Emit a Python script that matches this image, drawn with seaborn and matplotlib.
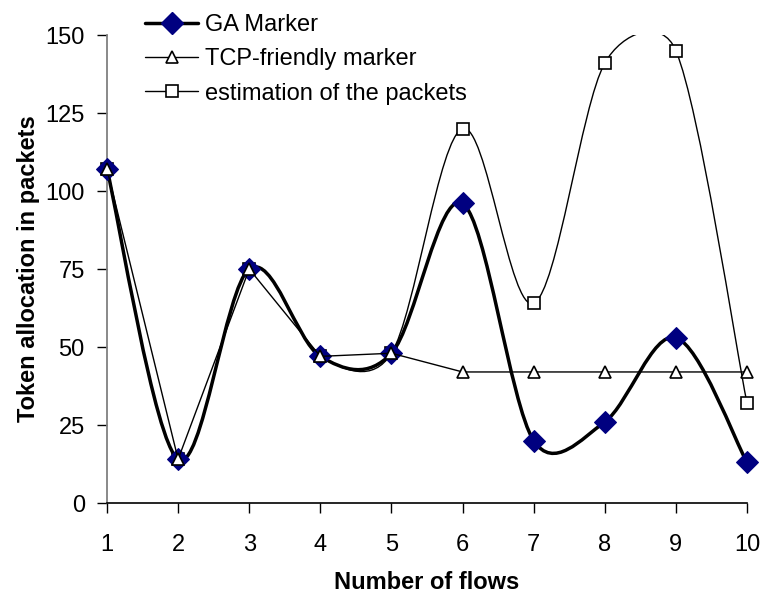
"""
Token allocation per flow: GA marker vs TCP-friendly marker vs packet estimate
Excel-style smoothed lines redrawn with seaborn/matplotlib
"""
import numpy as np
import matplotlib
matplotlib.use("Agg")
import matplotlib.pyplot as plt
from matplotlib.path import Path
from matplotlib.patches import PathPatch
from matplotlib.lines import Line2D
import seaborn as sns

# data
flows = [1, 2, 3, 4, 5, 6, 7, 8, 9, 10]
ga_marker = [107, 14, 75, 47, 48, 96, 20, 26, 53, 13]
tcp_friendly = [107, 14, 75, 47, 48, 42, 42, 42, 42, 42]
estimation = [107, 14, 75, 47, 48, 120, 64, 141, 145, 32]
y_ticks = [0, 25, 50, 75, 100, 125, 150]
labels = ["GA Marker", "TCP-friendly marker", "estimation of the packets"]

sns.set_theme(style="white")
plt.rcParams['font.family'] = ['Liberation Sans', 'DejaVu Sans']
plt.rcParams['text.color'] = 'black'
plt.rcParams['axes.labelcolor'] = 'black'
plt.rcParams['xtick.color'] = 'black'
plt.rcParams['ytick.color'] = 'black'

FS = 17
NAVY = '#000080'


def excel_smooth_path(ax, xs, ys):
    """Bezier path like Excel's 'smoothed line' (computed in screen space)"""
    pts = ax.transData.transform(np.column_stack([xs, ys]).astype(float))
    n = len(pts)
    verts = [pts[0]]
    codes = [Path.MOVETO]
    for i in range(n - 1):
        p0 = pts[max(i - 1, 0)]
        p1 = pts[i]
        p2 = pts[i + 1]
        p3 = pts[min(i + 2, n - 1)]
        d12 = np.linalg.norm(p2 - p1)
        d02 = np.linalg.norm(p2 - p0)
        d13 = np.linalg.norm(p3 - p1)
        f0 = 1 / 6 if d02 / 6 < d12 / 2 else d12 / (2 * d02)
        f1 = 1 / 6 if d13 / 6 < d12 / 2 else d12 / (2 * d13)
        verts += [p1 + f0 * (p2 - p0), p2 - f1 * (p3 - p1), p2]
        codes += [Path.CURVE4] * 3
    verts = ax.transData.inverted().transform(np.array(verts))
    return Path(verts, codes)


fig = plt.figure(figsize=(7.64, 6.04), dpi=100)
ax = fig.add_axes([107 / 764, 101 / 604, 640 / 764, 468 / 604])
ax.set_xlim(1, 10)
ax.set_ylim(0, 150)

# smoothed lines (clipped at the plot area like Excel does)
ax.add_patch(PathPatch(excel_smooth_path(ax, flows, estimation), fill=False,
                       edgecolor='black', lw=1.0, zorder=2))
ax.add_patch(PathPatch(excel_smooth_path(ax, flows, ga_marker), fill=False,
                       edgecolor='black', lw=2.5, clip_on=False, zorder=3))

# markers
sns.lineplot(x=flows, y=estimation, ax=ax, linestyle='', marker='s', markersize=8,
             markerfacecolor='white', markeredgecolor='black', markeredgewidth=1.2,
             clip_on=False, zorder=4)
sns.lineplot(x=flows, y=ga_marker, ax=ax, linestyle='', marker='D', markersize=11,
             markerfacecolor=NAVY, markeredgecolor=NAVY, clip_on=False, zorder=5)
sns.lineplot(x=flows, y=tcp_friendly, ax=ax, color='black', lw=1.0, marker='^',
             markersize=9, markerfacecolor='white', markeredgecolor='black',
             markeredgewidth=1.2, clip_on=False, zorder=6)

ax.set_xticks(flows)
ax.set_yticks(y_ticks)
ax.tick_params(axis='x', direction='out', length=7, width=1, color='black',
               pad=15, labelsize=FS, labelcolor='black', bottom=True)
ax.tick_params(axis='y', direction='out', length=7, width=1, color='black',
               pad=9, labelsize=FS, labelcolor='black', left=True)
ax.grid(False)
sns.despine(ax=ax)
ax.spines['left'].set_color('#808080')
ax.spines['left'].set_linewidth(1.3)
ax.spines['bottom'].set_color('black')
ax.spines['bottom'].set_linewidth(1.2)

ax.set_xlabel("Number of flows", fontsize=FS, fontweight='bold', labelpad=11,
              color='black')
ax.set_ylabel("Token allocation in packets", fontsize=FS, fontweight='bold',
              labelpad=4, color='black')

handles = [
    Line2D([], [], color='black', lw=2.5, marker='D', markersize=11,
           markerfacecolor=NAVY, markeredgecolor=NAVY),
    Line2D([], [], color='black', lw=1.0, marker='^', markersize=9,
           markerfacecolor='white', markeredgecolor='black', markeredgewidth=1.2),
    Line2D([], [], color='black', lw=1.0, marker='s', markersize=8,
           markerfacecolor='white', markeredgecolor='black', markeredgewidth=1.2),
]
fig.legend(handles, labels, loc='upper left', bbox_to_anchor=(145 / 764, 1 - 14 / 604),
           frameon=False, fontsize=FS, handlelength=2.25, handletextpad=0.3,
           labelspacing=0.52, borderpad=0, borderaxespad=0, labelcolor='black')

fig.savefig("out.png", dpi=100)
plt.close(fig)
